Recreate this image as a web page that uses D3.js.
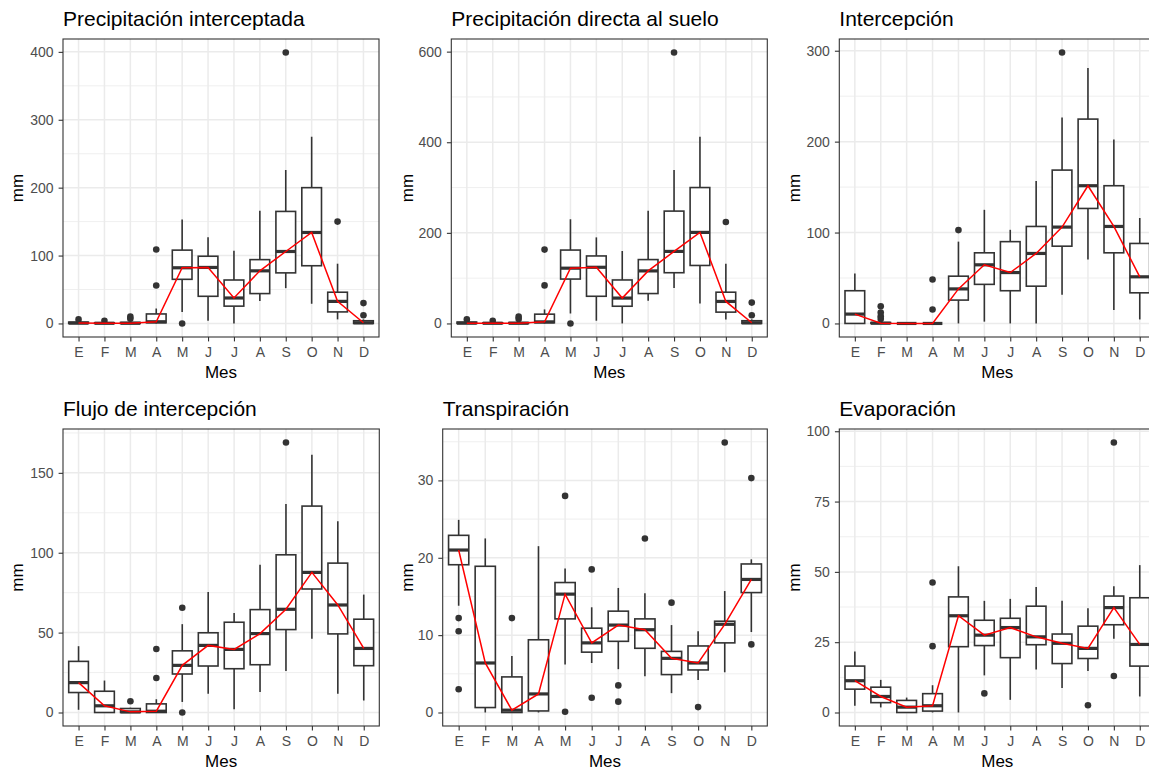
<!DOCTYPE html>
<html>
<head>
<meta charset="utf-8">
<script src="https://cdn.jsdelivr.net/npm/d3@7"></script>
<style>
  html, body { margin: 0; padding: 0; background: #fff; overflow: hidden; }
  svg { display: block; font-family: "Liberation Sans", Arial, sans-serif; }
</style>
</head>
<body>
<svg id="chart" width="1149" height="770"></svg>
<script>
// Month labels (Spanish initials)
const months = ["E", "F", "M", "A", "M", "J", "J", "A", "S", "O", "N", "D"];

// Box statistics per month: [lower whisker, Q1, median, Q3, upper whisker]
const interceptadaStats = [
  [0, 0, 0.5, 2, 3], [0, 0, 0.3, 1, 2], [0, 0, 0.3, 1.5, 3], [0, 1, 2.5, 14, 22],
  [17, 65, 82, 108, 153], [4, 40, 82.5, 99, 127], [0, 25.5, 37.5, 64, 107], [33, 44, 77.5, 94, 166],
  [52, 74.5, 106, 165, 226], [29, 85, 134, 200, 275], [6, 17, 32.5, 46, 88], [0, 0, 1, 4, 6]
];
const interceptadaOutliers = [[6], [4], [7, 10], [56, 109], [0], [], [], [], [399], [], [150], [12, 30]];
const interceptadaTicks = [0, 100, 200, 300, 400];

const directaStats = [
  [0, 0, 0.7, 3, 5], [0, 0, 0.5, 1.5, 3], [0, 0, 0.5, 2, 4], [0, 1.5, 3.5, 20.5, 31],
  [22, 98, 122, 162, 230], [6, 60, 124, 149, 190], [0, 38, 56, 96, 160], [50, 66, 116, 141, 249],
  [78, 112, 159, 248, 339], [44, 128, 201, 300, 412], [9, 25, 48.6, 69, 132], [0, 0, 1.5, 6, 9]
];
const directaOutliers = [[9], [6], [10, 15], [84, 163], [0], [], [], [], [598], [], [224], [18, 46]];
const directaTicks = [0, 200, 400, 600];

const intercepcionStats = [
  [0, 0, 10.3, 36, 55], [0, 0, 0.3, 1, 2], [0, 0, 0, 0, 0], [0, 0, 0, 0, 0],
  [0, 25.7, 38, 52, 90], [2, 43, 64.5, 77.7, 125], [0, 36, 56, 90, 103], [0, 41, 77, 106.7, 156.6],
  [31.5, 85, 106, 168.7, 226.6], [70.4, 126.5, 151.5, 224.8, 281], [14.7, 77.7, 106.7, 151.5, 202.4], [4.4, 33.7, 51.3, 88, 116]
];
const intercepcionOutliers = [[], [5, 8, 12, 19], [], [15.4, 48.4], [102.7], [], [], [], [298], [], [], []];
const intercepcionTicks = [0, 100, 200, 300];

const flujoStats = [
  [1.7, 12.5, 18.7, 32, 41.5], [0, 0, 4.2, 13.3, 20], [0, 0, 0.4, 2.5, 3], [0, 0, 0.8, 5.4, 8.3],
  [6.6, 24.1, 29.5, 38.6, 55.3], [11.8, 29.1, 42, 49.9, 75.4], [2, 27.4, 39.5, 56.5, 62.3], [12.9, 29.9, 49.4, 64.4, 92.5],
  [26, 51.9, 64.6, 98.7, 130.5], [46.1, 77.3, 87.7, 129.2, 161.4], [11.8, 49.2, 67.3, 93.5, 119.7], [7.5, 29.3, 40.1, 58.4, 73.8]
];
const flujoOutliers = [[], [], [7], [21.6, 39.7], [0, 65.6], [], [], [], [169], [], [], []];
const flujoTicks = [0, 50, 100, 150];

const transpiracionStats = [
  [13.8, 19.1, 21, 22.9, 24.9], [0, 0.64, 6.4, 18.9, 22.5], [0, 0, 0.3, 4.6, 7.3], [0, 0.2, 2.4, 9.4, 21.5],
  [6.2, 12.1, 15.3, 16.8, 18.6], [6.4, 7.8, 9, 10.9, 13.6], [5.6, 9.2, 11.3, 13.1, 16.1], [4.7, 8.3, 10.7, 12.1, 15.4],
  [2.5, 4.9, 7, 7.9, 11.3], [4.2, 5.5, 6.4, 8.6, 10.5], [5.2, 9, 11.4, 11.8, 15.7], [10.4, 15.5, 17.2, 19.2, 19.8]
];
const transpiracionOutliers = [[3, 10.5, 12.2], [], [12.2], [], [0.1, 28], [1.9, 18.5], [1.4, 3.5], [22.5], [14.2], [0.7], [34.9], [8.8, 30.3]];
const transpiracionTicks = [0, 10, 20, 30];

const evaporacionStats = [
  [2.4, 8.3, 11.3, 16.5, 21.7], [1.8, 3.5, 5.7, 9, 11.6], [0, 0, 1.9, 4.3, 5.3], [0, 0.5, 2.4, 6.7, 9.7],
  [0, 23.4, 34.4, 41.1, 52], [13.2, 23.8, 27.5, 32.8, 39.7], [4.5, 19.5, 30.2, 33.5, 40.4], [15.3, 24.1, 26.9, 37.8, 44.6],
  [8.7, 17.4, 24.6, 27.9, 39.7], [14.8, 19.2, 22.8, 30.7, 37.1], [26.2, 31.2, 37.3, 41.4, 44.9], [5.7, 16.5, 24.2, 40.8, 52.4]
];
const evaporacionOutliers = [[], [], [], [23.6, 46.2], [], [6.8], [], [], [], [2.6], [13, 96], []];
const evaporacionTicks = [0, 25, 50, 75, 100];

// Panel layout (plot rectangles in pixels)
const panels = [
  { title: "Precipitación interceptada", stats: interceptadaStats, outliers: interceptadaOutliers, ticks: interceptadaTicks,
    rect: { left: 63, right: 379, top: 39, bottom: 337 }, yTitleX: 23 },
  { title: "Precipitación directa al suelo", stats: directaStats, outliers: directaOutliers, ticks: directaTicks,
    rect: { left: 451.3, right: 767.3, top: 39, bottom: 337 }, yTitleX: 413.3 },
  { title: "Intercepción", stats: intercepcionStats, outliers: intercepcionOutliers, ticks: intercepcionTicks,
    rect: { left: 839.3, right: 1155.3, top: 39, bottom: 337 }, yTitleX: 800 },
  { title: "Flujo de intercepción", stats: flujoStats, outliers: flujoOutliers, ticks: flujoTicks,
    rect: { left: 63, right: 379.3, top: 429, bottom: 726 }, yTitleX: 23 },
  { title: "Transpiración", stats: transpiracionStats, outliers: transpiracionOutliers, ticks: transpiracionTicks,
    rect: { left: 442.7, right: 767.3, top: 429, bottom: 726 }, yTitleX: 413.3 },
  { title: "Evaporación", stats: evaporacionStats, outliers: evaporacionOutliers, ticks: evaporacionTicks,
    rect: { left: 839.3, right: 1155.3, top: 429, bottom: 726 }, yTitleX: 800 }
];

const svg = d3.select("#chart");
const GRID = "#EBEBEB", INK = "#333333", TICKTXT = "#4D4D4D";

panels.forEach(p => {
  const r = p.rect;
  const g = svg.append("g");

  // y domain: data range expanded by 5% on each side
  const allVals = p.stats.flat().concat(p.outliers.flat());
  const lo = d3.min(allVals), hi = d3.max(allVals);
  const pad = (hi - lo) * 0.05;
  const y = d3.scaleLinear().domain([lo - pad, hi + pad]).range([r.bottom, r.top]);
  const x = d3.scalePoint().domain(d3.range(months.length)).range([r.left, r.right]).padding(0.6);
  const boxW = x.step() * 0.76;

  // Minor grid lines halfway between major ticks
  const step = p.ticks[1] - p.ticks[0];
  const [d0, d1] = y.domain();
  const minor = d3.range(p.ticks[0] - step / 2, d1, step).filter(v => v > d0 && v < d1);

  g.append("rect").attr("x", r.left).attr("y", r.top)
    .attr("width", r.right - r.left).attr("height", r.bottom - r.top).attr("fill", "#fff");

  g.append("g").selectAll("line").data(minor).join("line")
    .attr("x1", r.left).attr("x2", r.right).attr("y1", d => y(d)).attr("y2", d => y(d))
    .attr("stroke", GRID).attr("stroke-width", 0.8);
  g.append("g").selectAll("line").data(p.ticks).join("line")
    .attr("x1", r.left).attr("x2", r.right).attr("y1", d => y(d)).attr("y2", d => y(d))
    .attr("stroke", GRID).attr("stroke-width", 1.5);
  g.append("g").selectAll("line").data(d3.range(months.length)).join("line")
    .attr("x1", d => x(d)).attr("x2", d => x(d)).attr("y1", r.top).attr("y2", r.bottom)
    .attr("stroke", GRID).attr("stroke-width", 1.5);

  // Boxplots
  const boxes = g.append("g").selectAll("g").data(p.stats).join("g");
  boxes.append("line")
    .attr("x1", (d, i) => x(i)).attr("x2", (d, i) => x(i))
    .attr("y1", d => y(d[3])).attr("y2", d => y(d[4]))
    .attr("stroke", INK).attr("stroke-width", 1.6);
  boxes.append("line")
    .attr("x1", (d, i) => x(i)).attr("x2", (d, i) => x(i))
    .attr("y1", d => y(d[0])).attr("y2", d => y(d[1]))
    .attr("stroke", INK).attr("stroke-width", 1.6);
  boxes.append("rect")
    .attr("x", (d, i) => x(i) - boxW / 2).attr("width", boxW)
    .attr("y", d => y(d[3])).attr("height", d => y(d[1]) - y(d[3]))
    .attr("fill", "#fff").attr("stroke", INK).attr("stroke-width", 1.6);
  boxes.append("line")
    .attr("x1", (d, i) => x(i) - boxW / 2).attr("x2", (d, i) => x(i) + boxW / 2)
    .attr("y1", d => y(d[2])).attr("y2", d => y(d[2]))
    .attr("stroke", INK).attr("stroke-width", 3.2);

  // Outliers
  const outPts = p.outliers.flatMap((arr, i) => arr.map(v => ({ i, v })));
  g.append("g").selectAll("circle").data(outPts).join("circle")
    .attr("cx", d => x(d.i)).attr("cy", d => y(d.v)).attr("r", 3.3)
    .attr("fill", INK);

  // Median trend line
  g.append("path")
    .datum(p.stats)
    .attr("d", d3.line().x((d, i) => x(i)).y(d => y(d[2])))
    .attr("fill", "none").attr("stroke", "red").attr("stroke-width", 1.5);

  // Panel border
  g.append("rect").attr("x", r.left).attr("y", r.top)
    .attr("width", r.right - r.left).attr("height", r.bottom - r.top)
    .attr("fill", "none").attr("stroke", INK).attr("stroke-width", 1.1);

  // Axes
  const yAxis = g.append("g").attr("transform", `translate(${r.left},0)`)
    .call(d3.axisLeft(y).tickValues(p.ticks).tickSize(4.4).tickPadding(5));
  const xAxis = g.append("g").attr("transform", `translate(0,${r.bottom})`)
    .call(d3.axisBottom(x).tickFormat(i => months[i]).tickSize(4.4).tickPadding(5.5));
  [yAxis, xAxis].forEach(a => {
    a.select(".domain").remove();
    a.selectAll(".tick line").attr("stroke", INK).attr("stroke-width", 1.1);
    a.selectAll(".tick text").attr("fill", TICKTXT).style("font-size", "14px")
      .style("font-family", "'Liberation Sans', Arial, sans-serif");
  });

  // Titles
  g.append("text").attr("x", r.left).attr("y", r.top - 13.5)
    .attr("font-size", 21).attr("fill", "#000").text(p.title);
  g.append("text").attr("x", (r.left + r.right) / 2).attr("y", r.bottom + 41)
    .attr("text-anchor", "middle").attr("font-size", 17).attr("fill", "#000").text("Mes");
  g.append("text")
    .attr("transform", `translate(${p.yTitleX},${(r.top + r.bottom) / 2}) rotate(-90)`)
    .attr("text-anchor", "middle").attr("font-size", 17).attr("fill", "#000").text("mm");
});
</script>
</body>
</html>
